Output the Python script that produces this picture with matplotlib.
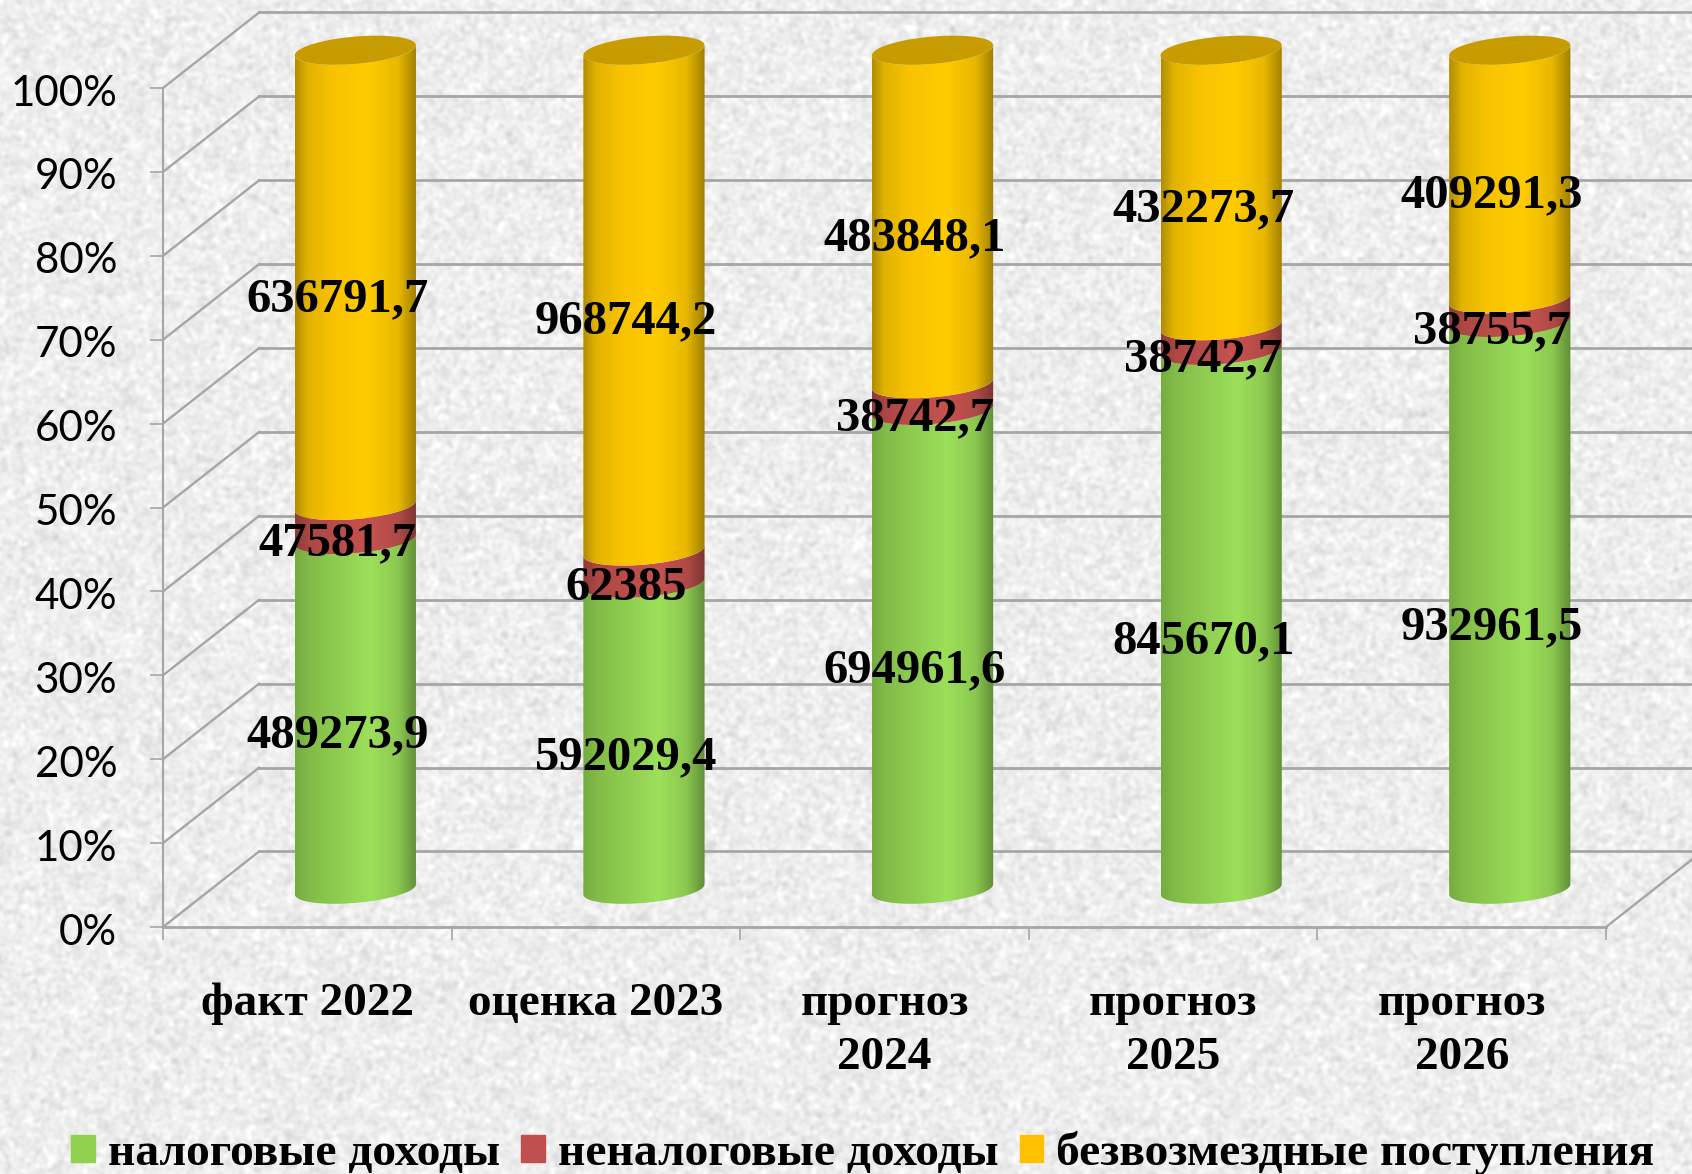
import numpy as np
import matplotlib
matplotlib.use('Agg')
import matplotlib.pyplot as plt
from matplotlib.colors import LinearSegmentedColormap
from matplotlib.patches import Patch, Polygon
from matplotlib.transforms import ScaledTranslation

categories = ['факт 2022', 'оценка 2023', 'прогноз\n2024', 'прогноз\n2025', 'прогноз\n2026']
series_names = ['налоговые доходы', 'неналоговые доходы', 'безвозмездные поступления']
nalog = [489273.9, 592029.4, 694961.6, 845670.1, 932961.5]
nenalog = [47581.7, 62385, 38742.7, 38742.7, 38755.7]
bezvozm = [636791.7, 968744.2, 483848.1, 432273.7, 409291.3]
labels_nalog = ['489273,9', '592029,4', '694961,6', '845670,1', '932961,5']
labels_nenalog = ['47581,7', '62385', '38742,7', '38742,7', '38755,7']
labels_bezvozm = ['636791,7', '968744,2', '483848,1', '432273,7', '409291,3']
percent_ticks = [0, 10, 20, 30, 40, 50, 60, 70, 80, 90, 100]

W, H = 1692, 1174
GRID = '#A6A6A6'
SERIF = 'Liberation Serif'

# oblique depth of the fake 3d box, in data units
depth_x = 0.333
depth_y = 9.0
rad_x = 0.21
tilt = 0.6
rad_y = 1.63

fig = plt.figure(figsize=(W / 100, H / 100), dpi=100)

### mottled paper background (decoration only, not data) ###
rng = np.random.default_rng(3)
noise = rng.normal(size=(H, W))
fy = np.fft.fftfreq(H)[:, None]
fx = np.fft.fftfreq(W)[None, :]
blur = np.exp(-2 * (np.pi * 1.9) ** 2 * (fx ** 2 + fy ** 2))
tex = np.fft.ifft2(np.fft.fft2(noise) * blur).real
tex = 0.93 + 0.023 * tex / tex.std()
bg = fig.add_axes([0, 0, 1, 1], zorder=-1)
bg.imshow(tex, cmap='gray', vmin=0, vmax=1, aspect='auto')
bg.axis('off')

### main axes = front plane of the box ###
ax = fig.add_axes([163 / W, 1 - 927 / H, 1443 / W, 839 / H])
ax.patch.set_alpha(0)
ax.set_xlim(0, 5)
ax.set_ylim(0, 100)
ax.set_autoscale_on(False)
for s in ['top', 'right']:
    ax.spines[s].set_visible(False)
ax.spines['left'].set_color(GRID)
ax.spines['left'].set_linewidth(1.5)
ax.spines['bottom'].set_color(GRID)
ax.spines['bottom'].set_linewidth(2)

ax.set_yticks(percent_ticks)
ax.set_yticklabels(['{}%'.format(p) for p in percent_ticks], fontfamily='Lato', fontsize=30.3)
ax.tick_params(axis='y', length=9.5, width=1.2, color=GRID, pad=23.5)
shift_down = ScaledTranslation(0, -1.5 / 72, fig.dpi_scale_trans)
for lbl in ax.get_yticklabels():
    lbl.set_transform(lbl.get_transform() + shift_down)
ax.set_xticks(range(6))
ax.set_xticklabels([])
ax.tick_params(axis='x', which='major', length=9.5, width=1.2, color=GRID)
ax.set_xticks(np.arange(5) + 0.5, minor=True)
ax.set_xticklabels(categories, minor=True, fontfamily=SERIF, fontweight='bold', fontsize=34, linespacing=1.38)
ax.tick_params(axis='x', which='minor', length=0, pad=40)

### walls and floor ###
for p in percent_ticks:
    ax.plot([0, depth_x], [p, p + depth_y], color=GRID, lw=1.7, clip_on=False, zorder=1)
    ax.plot([depth_x, 5 + depth_x], [p + depth_y, p + depth_y], color=GRID, lw=2, clip_on=False, zorder=1)
ax.plot([5, 5 + depth_x], [0, depth_y], color=GRID, lw=1.7, clip_on=False, zorder=1)

### cylinders ###
cmap_green = LinearSegmentedColormap.from_list('g', [(0, '#74AC40'), (0.12, '#83BC48'), (0.62, '#9CE05A'), (0.85, '#8CC850'), (1, '#5F8E36')])
cmap_red = LinearSegmentedColormap.from_list('r', [(0, '#8E3A38'), (0.12, '#AE4845'), (0.62, '#C6524F'), (0.85, '#B04A47'), (1, '#7E3432')])
cmap_yellow = LinearSegmentedColormap.from_list('y', [(0, '#B08C00'), (0.1, '#E0B200'), (0.3, '#F8C200'), (0.6, '#FFCC00'), (0.85, '#E8B800'), (1, '#9E7E00')])
ramp = np.linspace(0, 1, 256)[None, :]
t_front = np.linspace(np.pi, 2 * np.pi, 60)


def arc(cx, level, t):
    return cx + rad_x * np.cos(t), level + tilt * np.cos(t) + rad_y * np.sin(t)


def segment(cx, low, high, cmap):
    xl, yl = arc(cx, low, t_front)
    xh, yh = arc(cx, high, t_front)
    pts = np.column_stack([np.r_[xl, xh[::-1]], np.r_[yl, yh[::-1]]])
    clip = Polygon(pts, closed=True, transform=ax.transData)
    im = ax.imshow(ramp, cmap=cmap, vmin=0, vmax=1, aspect='auto', zorder=3,
                   extent=(cx - rad_x, cx + rad_x, low - 3, high + 3), interpolation='bilinear')
    im.set_clip_box(fig.bbox)
    im.set_clip_path(clip)


lab_dx = 0.105
lab_dy = 2.0
for i in range(len(categories)):
    total = nalog[i] + nenalog[i] + bezvozm[i]
    cx = i + 0.5 + depth_x / 2
    bottom = 0
    parts = [(nalog[i], cmap_green, labels_nalog[i]),
             (nenalog[i], cmap_red, labels_nenalog[i]),
             (bezvozm[i], cmap_yellow, labels_bezvozm[i])]
    for val, cmap, lab in parts:
        share = val / total * 100
        segment(cx, bottom + depth_y / 2, bottom + share + depth_y / 2, cmap)
        ax.text(i + 0.5 + lab_dx, bottom + share / 2 + lab_dy, lab, ha='center', va='center',
                fontfamily=SERIF, fontweight='bold', fontsize=35, color='black', zorder=5)
        bottom += share
    tt = np.linspace(0, 2 * np.pi, 120)
    xc, yc = arc(cx, 100 + depth_y / 2, tt)
    ax.fill(xc, yc, color='#C69C00', lw=0, clip_on=False, zorder=4)

### legend ###
handles = [Patch(color='#92D050'), Patch(color='#C0504D'), Patch(color='#FFC000')]
fig.legend(handles, series_names, loc='lower left', bbox_to_anchor=(71 / W, 1 - 1175 / H), ncols=3,
           frameon=False, borderpad=0, borderaxespad=0, handlelength=0.5, handleheight=0.5,
           handletextpad=0.27, columnspacing=0.45,
           prop={'family': SERIF, 'weight': 'bold', 'size': 34.2})

plt.savefig('out.png', dpi=100)
